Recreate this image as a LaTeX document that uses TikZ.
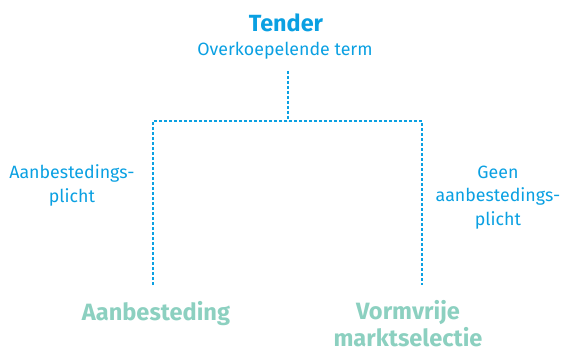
\documentclass[tikz,border=0pt]{standalone}
\usepackage{fontspec}
\setmainfont{Fira Sans}
\definecolor{tblue}{HTML}{0AA0E2}
\definecolor{tgreen}{HTML}{8CD0C0}
\begin{document}
\begin{tikzpicture}[x=1pt,y=-1pt,
  lbl/.style={inner sep=0pt,anchor=base,text=tblue,font=\fontsize{17.8}{23.5}\selectfont,align=center},
  ttl/.style={inner sep=0pt,anchor=base,text=tblue,font=\fontsize{23.4}{27}\selectfont\bfseries,align=center},
  res/.style={inner sep=0pt,anchor=base,text=tgreen,font=\fontsize{23.6}{26.5}\selectfont\bfseries,align=center},
  dotline/.style={draw=tblue,line width=2.8pt,dash pattern=on 2.6pt off 2.4pt}]
\useasboundingbox (0,0) rectangle (562,350);
\node[ttl] (tender) at (286,32) {Tender};
\node[lbl] (term) at (285,56) {Overkoepelende term};
\node[lbl] (left) at (72,202) {Aanbestedings-\\plicht};
\node[lbl] (right) at (498,225) {Geen\\aanbestedings-\\plicht};
\node[res] (aan) at (156,320) {Aanbesteding};
\node[res] (vorm) at (408,346) {Vormvrije\\marktselectie};
\coordinate (t) at (288,71);
\coordinate (j) at (288,121);
\coordinate (lc) at (153,121);
\coordinate (rc) at (422,121);
\coordinate (lb) at (153,285);
\coordinate (rb) at (422,285);
\draw[dotline] (t) -- (j);
\draw[dotline] (lb) -- (lc) -- (rc) -- (rb);
\end{tikzpicture}
\end{document}
